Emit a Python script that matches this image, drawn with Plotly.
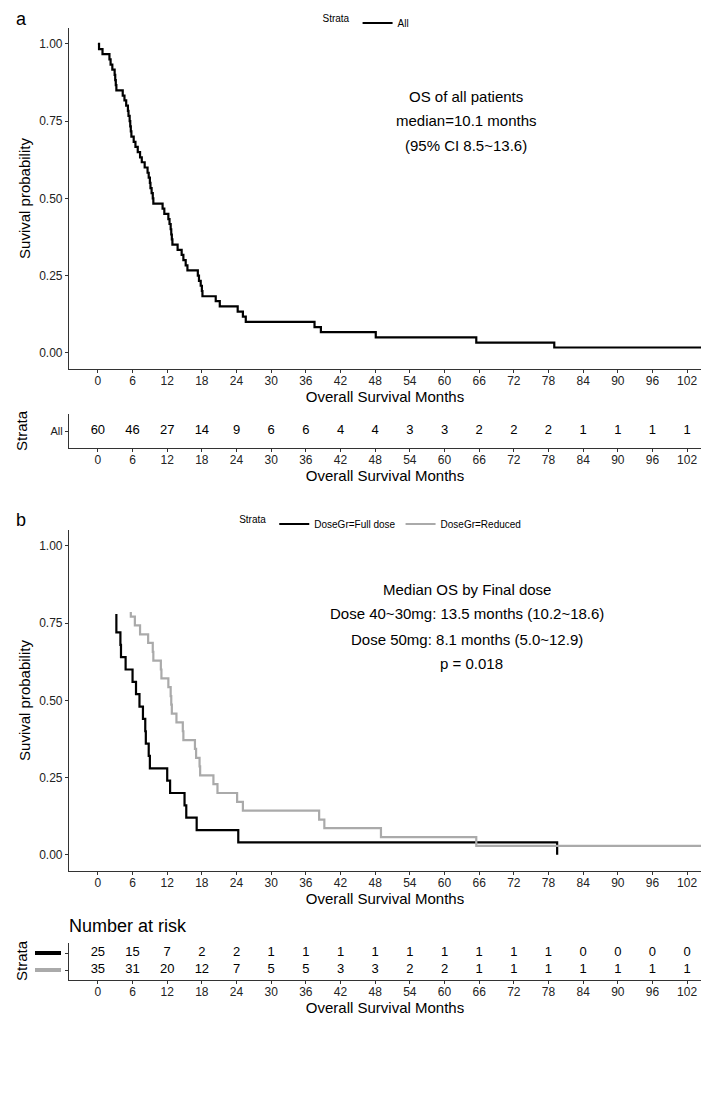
import plotly.graph_objects as go

# ---------------- data ----------------
months = [0, 6, 12, 18, 24, 30, 36, 42, 48, 54, 60, 66, 72, 78, 84, 90, 96, 102]
all_at_risk = [60, 46, 27, 14, 9, 6, 6, 4, 4, 3, 3, 2, 2, 2, 1, 1, 1, 1]
full_at_risk = [25, 15, 7, 2, 2, 1, 1, 1, 1, 1, 1, 1, 1, 1, 0, 0, 0, 0]
reduced_at_risk = [35, 31, 20, 12, 7, 5, 5, 3, 3, 2, 2, 1, 1, 1, 1, 1, 1, 1]

all_time = [0, 0.2, 0.8, 2.0, 2.2, 2.5, 2.9, 3.0, 3.1, 3.2, 4.3, 4.6, 4.9, 5.2, 5.3, 5.5,
            5.6, 5.7, 5.8, 6.2, 6.5, 6.9, 7.3, 7.6, 8.1, 8.6, 8.8, 9.0, 9.1, 9.3, 9.5, 9.6,
            11.2, 11.5, 12.2, 12.4, 12.6, 12.7, 12.8, 12.9, 13.8, 14.5, 14.8, 15.2, 15.5,
            17.3, 17.5, 17.8, 18.0, 18.1, 20.4, 21.1, 24.2, 25.1, 25.6, 37.5, 38.6, 48.1,
            65.5, 79.0, 104.4]
all_surv = [1.000, 0.983, 0.967, 0.950, 0.933, 0.917, 0.900, 0.883, 0.867, 0.850, 0.833,
            0.817, 0.800, 0.783, 0.767, 0.750, 0.733, 0.717, 0.700, 0.683, 0.667, 0.650,
            0.633, 0.617, 0.600, 0.583, 0.567, 0.550, 0.533, 0.517, 0.500, 0.483, 0.467,
            0.450, 0.433, 0.417, 0.400, 0.383, 0.367, 0.350, 0.333, 0.317, 0.300, 0.283,
            0.267, 0.250, 0.233, 0.217, 0.200, 0.183, 0.167, 0.150, 0.133, 0.117, 0.100,
            0.083, 0.067, 0.050, 0.033, 0.017, 0.017]

full_time = [3.2, 3.2, 3.9, 4.0, 4.8, 6.0, 6.6, 7.2, 7.8, 8.2, 8.3, 8.8, 9.0, 12.0, 12.5,
             15.0, 15.3, 17.1, 24.3, 79.5]
full_surv = [0.78, 0.72, 0.68, 0.64, 0.60, 0.56, 0.52, 0.48, 0.44, 0.40, 0.36, 0.32, 0.28,
             0.24, 0.20, 0.16, 0.12, 0.08, 0.04, 0.00]

red_time = [5.7, 5.7, 6.4, 7.3, 8.7, 9.5, 9.6, 10.9, 11.0, 12.2, 12.6, 12.7, 12.8, 13.6,
            14.7, 14.8, 16.8, 17.0, 17.6, 17.7, 20.0, 20.7, 24.1, 25.1, 38.3, 39.2, 49.0,
            65.5, 104.4]
red_surv = [0.786, 0.771, 0.743, 0.714, 0.686, 0.657, 0.629, 0.600, 0.571, 0.543, 0.514,
            0.486, 0.457, 0.429, 0.400, 0.371, 0.343, 0.314, 0.286, 0.257, 0.229, 0.200,
            0.171, 0.143, 0.114, 0.086, 0.057, 0.029, 0.029]

y_ticks = [0, 0.25, 0.5, 0.75, 1.0]
y_ticktext = ["0.00", "0.25", "0.50", "0.75", "1.00"]

# ---------------- layout helpers ----------------
W, H = 709, 1095
def px(x):
    return x / W
def py(y):
    return 1 - y / H

BLACK = "#000000"
GRAY = "#aaaaaa"
AX = "#333333"
FONT = "Liberation Sans, Arial, sans-serif"
XRANGE = [-5.0, 104.4]
YRANGE = [-0.0526, 1.0517]

fig = go.Figure()

fig.add_trace(go.Scatter(x=all_time, y=all_surv, mode="lines", line_shape="hv",
                         line=dict(color=BLACK, width=2.2), name="All",
                         xaxis="x", yaxis="y", legend="legend"))
fig.add_trace(go.Scatter(x=months, y=[0] * len(months), mode="text",
                         text=[str(v) for v in all_at_risk],
                         textfont=dict(family=FONT, size=13, color="black"),
                         showlegend=False, xaxis="x2", yaxis="y2"))
fig.add_trace(go.Scatter(x=full_time, y=full_surv, mode="lines", line_shape="hv",
                         line=dict(color=BLACK, width=2.2), name="DoseGr=Full dose",
                         xaxis="x3", yaxis="y3", legend="legend2"))
fig.add_trace(go.Scatter(x=red_time, y=red_surv, mode="lines", line_shape="hv",
                         line=dict(color=GRAY, width=2.2), name="DoseGr=Reduced",
                         xaxis="x3", yaxis="y3", legend="legend2"))
fig.add_trace(go.Scatter(x=months, y=[1] * len(months), mode="text",
                         text=[str(v) for v in full_at_risk],
                         textfont=dict(family=FONT, size=13, color="black"),
                         showlegend=False, xaxis="x4", yaxis="y4"))
fig.add_trace(go.Scatter(x=months, y=[0] * len(months), mode="text",
                         text=[str(v) for v in reduced_at_risk],
                         textfont=dict(family=FONT, size=13, color="black"),
                         showlegend=False, xaxis="x4", yaxis="y4"))

xdom = [px(61), px(693)]

def xaxis(anchor, standoff=0):
    return dict(domain=xdom, range=XRANGE, anchor=anchor, tickvals=months,
                ticktext=[str(m) for m in months], showline=True, linecolor=AX,
                linewidth=1.2, ticks="outside", ticklen=3, tickcolor=AX, tickwidth=1.2,
                tickfont=dict(family=FONT, size=12, color="#222"),
                ticklabelstandoff=-3,
                title=dict(text="Overall Survival Months",
                           font=dict(family=FONT, size=15, color="black"),
                           standoff=standoff),
                showgrid=False, zeroline=False, automargin=False, fixedrange=True)

def yaxis_plot(anchor, top, bottom):
    return dict(domain=[py(bottom), py(top)], range=YRANGE, anchor=anchor,
                tickvals=y_ticks, ticktext=y_ticktext, showline=True, linecolor=AX,
                linewidth=1.2, ticks="outside", ticklen=3, tickcolor=AX, tickwidth=1.2,
                tickfont=dict(family=FONT, size=12, color="#222"),
                title=dict(text="Suvival probability",
                           font=dict(family=FONT, size=15, color="black"), standoff=4),
                showgrid=False, zeroline=False, automargin=False, fixedrange=True)

fig.update_layout(
    width=W, height=H, margin=dict(l=0, r=0, t=0, b=0),
    paper_bgcolor="white", plot_bgcolor="white",
    font=dict(family=FONT, color="black"),
    xaxis=xaxis("y"),
    yaxis=yaxis_plot("x", 20, 361),
    xaxis2=xaxis("y2", standoff=3),
    yaxis2=dict(domain=[py(440), py(406)], range=[-0.5, 0.5], anchor="x2",
                tickvals=[0], ticktext=["All"], showline=True, linecolor=AX,
                linewidth=1.2, ticks="outside", ticklen=3, tickcolor=AX,
                tickfont=dict(family=FONT, size=11, color="#222"),
                showgrid=False, zeroline=False, automargin=False, fixedrange=True),
    xaxis3=xaxis("y3"),
    yaxis3=yaxis_plot("x3", 522, 863),
    xaxis4=xaxis("y4", standoff=2),
    yaxis4=dict(domain=[py(972), py(935)], range=[-0.588, 1.588], anchor="x4",
                tickvals=[0, 1], ticktext=["", ""], showline=True, linecolor=AX,
                linewidth=1.2, ticks="outside", ticklen=3, tickcolor=AX,
                showgrid=False, zeroline=False, automargin=False, fixedrange=True),
    legend=dict(orientation="h", x=0.507, xanchor="center", y=py(15), yanchor="middle",
                title=dict(text="Strata", font=dict(size=10)),
                font=dict(family=FONT, size=10), itemwidth=30,
                bgcolor="rgba(0,0,0,0)"),
    legend2=dict(orientation="h", x=0.527, xanchor="center", y=py(516), yanchor="middle",
                 title=dict(text="Strata", font=dict(size=10)),
                 font=dict(family=FONT, size=10), itemwidth=30,
                 bgcolor="rgba(0,0,0,0)"),
    showlegend=True,
)

ann = []
def add_text(text, x, y, size, xanchor="center", angle=0):
    ann.append(dict(text=text, x=px(x), y=py(y), xref="paper", yref="paper",
                    xanchor=xanchor, yanchor="middle", showarrow=False,
                    textangle=angle, font=dict(family=FONT, size=size, color="black")))

add_text("a", 6, 11, 18, xanchor="left")
add_text("b", 6, 512, 18, xanchor="left")
add_text("OS of all patients", 458, 88, 15)
add_text("median=10.1 months", 458, 113, 15)
add_text("(95% CI 8.5~13.6)", 458, 137, 15)
add_text("Median OS by Final dose", 459, 581, 15)
add_text("Dose 40~30mg: 13.5 months (10.2~18.6)", 459, 606, 15)
add_text("Dose 50mg: 8.1 months (5.0~12.9)", 459, 631, 15)
add_text("p = 0.018", 463, 656, 15)
add_text("Strata", 13, 423, 15, angle=-90)
add_text("Strata", 13, 953, 15, angle=-90)
add_text("Number at risk", 59, 918, 18, xanchor="left")
fig.update_layout(annotations=ann)

fig.add_shape(type="line", xref="paper", yref="y4", x0=px(27), x1=px(53), y0=1, y1=1,
              line=dict(color=BLACK, width=4))
fig.add_shape(type="line", xref="paper", yref="y4", x0=px(27), x1=px(53), y0=0, y1=0,
              line=dict(color=GRAY, width=4))

fig.write_html("out.html")
